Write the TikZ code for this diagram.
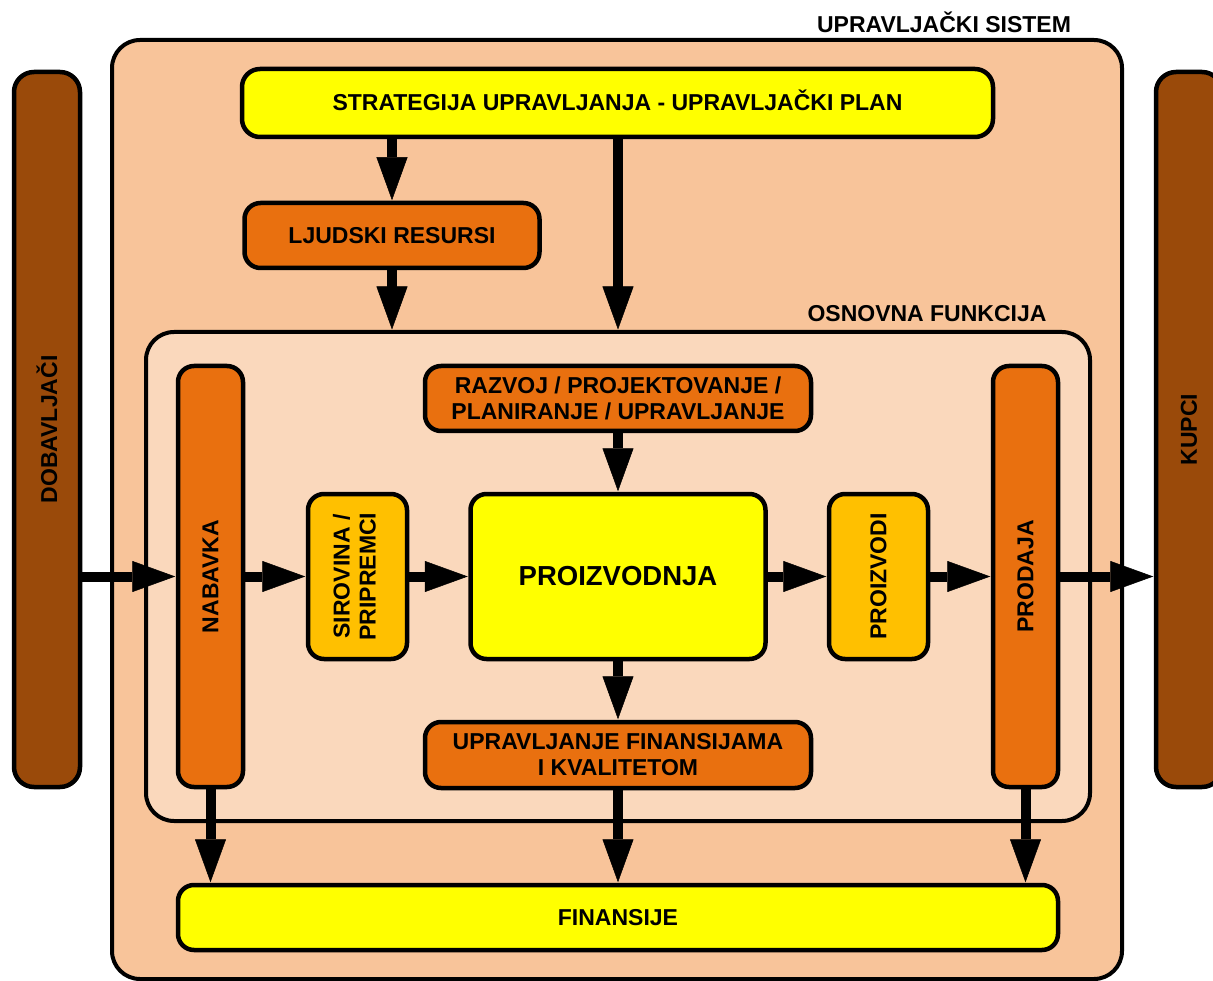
\documentclass[tikz,border=0pt]{standalone}
\usepackage{fontspec}
\setmainfont{Liberation Sans}
\usetikzlibrary{arrows.meta}
\definecolor{outerfill}{HTML}{F8C49A}
\definecolor{innerfill}{HTML}{FAD8BC}
\definecolor{brownbar}{HTML}{9A4A0A}
\definecolor{orangebox}{HTML}{E9700F}
\definecolor{lightorange}{HTML}{FFC000}
\definecolor{yellowbox}{HTML}{FFFF00}
\begin{document}
\begin{tikzpicture}[x=1pt,y=-1pt,
  frame/.style={draw=black,line width=4pt,rounded corners=28pt,inner sep=0pt},
  box/.style={draw=black,line width=4.5pt,rounded corners=16pt,inner sep=0pt,
    align=center,font=\bfseries\fontsize{23}{26}\selectfont},
  ybox/.style={box,fill=yellowbox},
  obox/.style={box,fill=orangebox},
  lbox/.style={box,fill=lightorange},
  bbox/.style={box,fill=brownbar,rounded corners=20pt},
  ttl/.style={font=\bfseries\fontsize{23}{26}\selectfont,inner sep=0pt},
  arr/.style={line width=10pt,-{Triangle[length=43pt,width=31pt,line width=0.5pt]},shorten >=0.5pt}
]
\useasboundingbox (0,0) rectangle (1213,981);
% frames
\node[frame,fill=outerfill,minimum width=1010pt,minimum height=939pt] (sys) at (617,509.5) {};
\node[frame,fill=innerfill,minimum width=944pt,minimum height=489pt] (inner) at (618,576.5) {};
\node[ttl] (systitle) at (944,22) {UPRAVLJAČKI SISTEM};
\node[ttl] (innertitle) at (927,314) {OSNOVNA FUNKCIJA};
% side bars
\node[bbox,minimum width=66pt,minimum height=715pt] (dob) at (47,429.5) {\rotatebox{90}{DOBAVLJAČI}};
\node[bbox,minimum width=66pt,minimum height=715pt] (kup) at (1189,429.5) {\rotatebox{90}{KUPCI}};
% top boxes
\node[ybox,rounded corners=18pt,minimum width=751pt,minimum height=68pt] (strat) at (617.5,103) {\raisebox{5pt}{STRATEGIJA UPRAVLJANJA - UPRAVLJAČKI PLAN}};
\node[obox,minimum width=295pt,minimum height=65pt] (ljud) at (392,235.5) {LJUDSKI RESURSI};
% inner boxes
\node[obox,minimum width=65pt,minimum height=421pt] (nab) at (210.5,576.5) {\rotatebox{90}{NABAVKA}};
\node[obox,minimum width=65pt,minimum height=421pt] (prod) at (1025.5,576.5) {\rotatebox{90}{PRODAJA}};
\node[obox,minimum width=386pt,minimum height=65pt] (razv) at (618,398.5) {RAZVOJ / PROJEKTOVANJE /\\PLANIRANJE / UPRAVLJANJE};
\node[lbox,minimum width=99pt,minimum height=165pt] (sir) at (357.5,576.5) {\rotatebox{90}{\begin{tabular}{@{}c@{}}SIROVINA /\\PRIPREMCI\end{tabular}}};
\node[ybox,minimum width=295pt,minimum height=165pt,font=\bfseries\fontsize{27.5}{32}\selectfont] (pro) at (618,576.5) {PROIZVODNJA};
\node[lbox,minimum width=99pt,minimum height=165pt] (pdi) at (878.5,576.5) {\rotatebox{90}{PROIZVODI}};
\node[obox,minimum width=386pt,minimum height=66pt] (upf) at (618,755) {UPRAVLJANJE FINANSIJAMA\\I KVALITETOM};
\node[ybox,minimum width=880pt,minimum height=65pt] (fin) at (618,917.5) {FINANSIJE};
% vertical arrows
\draw[arr] (ljud.north |- strat.south) -- (ljud.north);
\draw[arr] (ljud.south) -- (ljud.south |- inner.north);
\draw[arr] (strat.south -| inner.north) -- (inner.north);
\draw[arr] (razv.south) -- (pro.north);
\draw[arr] (pro.south) -- (upf.north);
\draw[arr] (upf.south) -- (fin.north);
\draw[arr] (nab.south) -- (nab.south |- fin.north);
\draw[arr] (prod.south) -- (prod.south |- fin.north);
% horizontal arrows
\draw[arr] (dob.east |- nab.west) -- (nab.west);
\draw[arr] (nab.east) -- (sir.west);
\draw[arr] (sir.east) -- (pro.west);
\draw[arr] (pro.east) -- (pdi.west);
\draw[arr] (pdi.east) -- (prod.west);
\draw[arr] (prod.east) -- (prod.east -| kup.west);
\end{tikzpicture}
\end{document}
